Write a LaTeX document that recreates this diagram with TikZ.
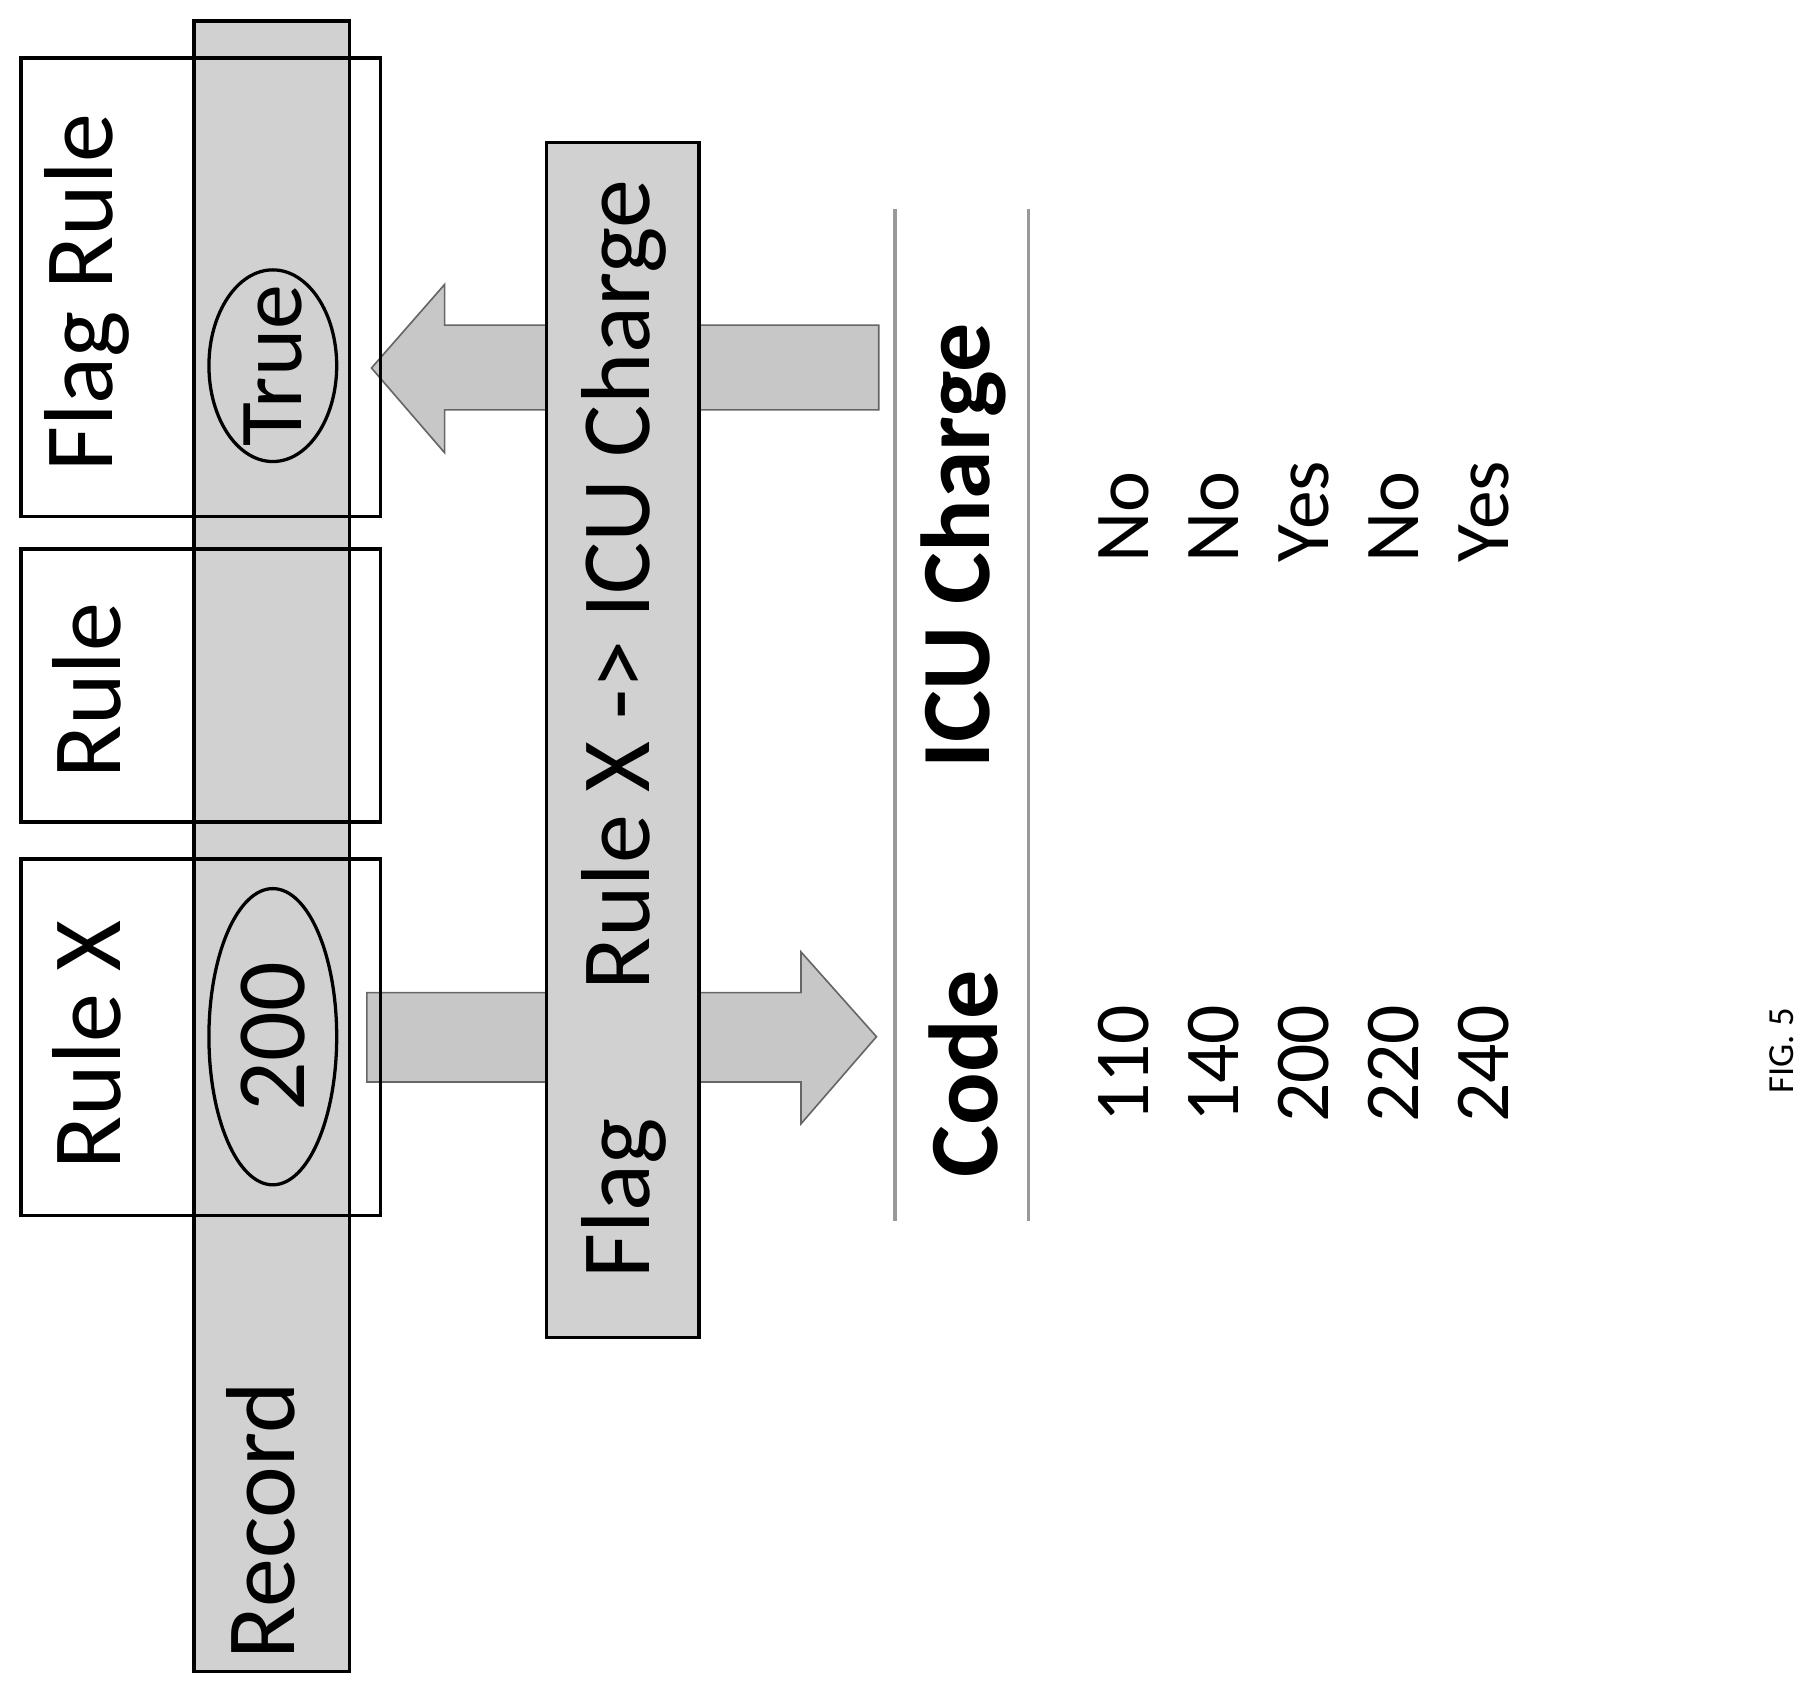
\documentclass[tikz,border=0pt]{standalone}
\usepackage{fontspec}
\setmainfont{Carlito}
\usetikzlibrary{shapes,arrows,positioning}
\tikzstyle{box} = [rectangle, draw=black, thick, anchor=north west]
\tikzstyle{strip} = [rectangle, draw=black, thick, fill=black!18]
\tikzstyle{big} = [font=\fontsize{24}{28}\selectfont, rotate=90]
\tikzstyle{val} = [font=\fontsize{19}{22}\selectfont, rotate=90]
\tikzstyle{blockarrow} = [fill=black!22, draw=black!60]
\tikzstyle{rule} = [draw=black!40, thick]

\begin{document}
\begin{tikzpicture}[x=0.01cm, y=-0.01cm]
    \useasboundingbox (0,0) rectangle (1560,1453);

        % record strip
        \draw [strip] (167,18) rectangle (301,1440);
        \node [big] (record) at (225,1310) {Record};

        % block arrows
        \draw [blockarrow] (316,855) -- (690,855) -- (690,820) -- (755,893) -- (690,968) -- (690,932) -- (316,932) -- cycle;
        \draw [blockarrow] (757,280) -- (383,280) -- (383,245) -- (320,317) -- (383,390) -- (383,353) -- (757,353) -- cycle;

        % rule boxes
        \draw [box] (18,740) rectangle (328,1047);
        \draw [box] (18,473) rectangle (328,708);
        \draw [box] (18,50) rectangle (328,445);
        \node [big] (rulex) at (75,900) {Rule X};
        \node [big] (rule) at (75,595) {Rule};
        \node [big] (flagrule) at (75,252) {Flag Rule};

        \node [ellipse, draw=black, thick, minimum width=2.55cm, minimum height=1.1cm, rotate=90] (val) at (235,893) {};
        \node [big] at (val) {200};
        \node [ellipse, draw=black, thick, minimum width=1.65cm, minimum height=1.1cm, inner sep=0pt, rotate=90] (flagval) at (235,315) {};
        \node [big, font=\fontsize{22}{26}\selectfont] at (flagval) {True};

        % flag box
        \draw [strip] (471,123) rectangle (602,1152);
        \node [big] (flag) at (537,628) {Flag\hspace{1.3em}Rule X -> ICU Charge};

        % table
        \draw [rule] (771,180) -- (771,1052);
        \draw [rule] (886,180) -- (886,1052);
        \node [big, font=\fontsize{24}{28}\selectfont\bfseries] (code) at (830,925) {Code};
        \node [big, font=\fontsize{24}{28}\selectfont\bfseries] (icu) at (830,470) {ICU Charge};
        \foreach \c/\v [count=\i from 0] in {110/No,140/No,200/Yes,220/No,240/Yes} {
            \node [val, anchor=west, inner sep=0pt] (c\i) at (968+77.5*\i,968) {\c};
            \node [val, anchor=west, inner sep=0pt] (v\i) at (968+77.5*\i,485) {\v};
        }

        \node [rotate=90, font=\fontsize{9}{11}\selectfont] (fig) at (1535,905) {FIG. 5};
\end{tikzpicture}
\end{document}
